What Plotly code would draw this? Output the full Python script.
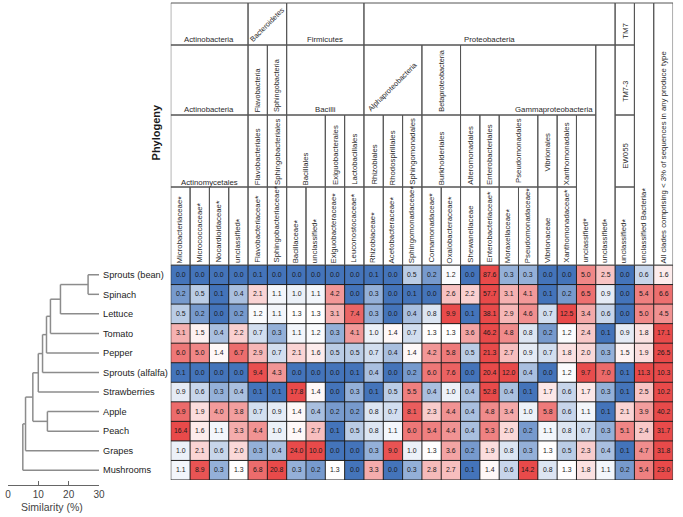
import numpy as np
import plotly.graph_objects as go

# ---------------- data ----------------
rows = ["Sprouts (bean)", "Spinach", "Lettuce", "Tomato", "Pepper", "Sprouts (alfalfa)",
        "Strawberries", "Apple", "Peach", "Grapes", "Mushrooms"]

families = ["Microbacteriaceae*", "Micrococcaceae*", "Nocardioidaceae*", "unclassified*",
            "Flavobacteriaceae*", "Sphingobacteriaceae*", "Bacillaceae*", "unclassified*",
            "Exiguobacteraceae*", "Leuconostocaceae*", "Rhizobiaceae*", "Acetobacteraceae*",
            "Sphingomonadaceae*", "Comamonadaceae*", "Oxalobacteraceae*", "Shewanellaceae",
            "Enterobacteriaceae*", "Moraxellaceae*", "Pseudomonadaceae*", "Vibrionaceae",
            "Xanthomonadaceae*", "unclassified*", "unclassified*", "unclassified*",
            "unclassified Bacteria*",
            "All clades comprising &lt; 3% of sequences in any produce type"]

sprouts_bean    = [0.0, 0.0, 0.0, 0.0, 0.1, 0.0, 0.0, 0.0, 0.0, 0.0, 0.1, 0.0, 0.5, 0.2, 1.2, 0.0, 87.6, 0.3, 0.3, 0.0, 0.0, 5.0, 2.5, 0.0, 0.6, 1.6]
spinach         = [0.2, 0.5, 0.1, 0.4, 2.1, 1.1, 1.0, 1.1, 4.2, 0.0, 0.3, 0.0, 0.1, 0.0, 2.6, 2.2, 57.7, 3.1, 4.1, 0.1, 0.2, 6.5, 0.9, 0.0, 5.4, 6.6]
lettuce         = [0.5, 0.2, 0.0, 0.2, 1.2, 1.1, 1.3, 1.3, 3.1, 7.4, 0.3, 0.0, 0.4, 0.8, 9.9, 0.1, 38.1, 2.9, 4.6, 0.7, 12.5, 3.4, 0.6, 0.0, 5.0, 4.5]
tomato          = [3.1, 1.5, 0.4, 2.2, 0.7, 0.3, 1.1, 1.2, 0.3, 4.1, 1.0, 1.4, 0.7, 1.3, 1.3, 3.6, 46.2, 4.8, 0.8, 0.2, 1.2, 2.4, 0.1, 0.9, 1.8, 17.1]
pepper          = [6.0, 5.0, 1.4, 6.7, 2.9, 0.7, 2.1, 1.6, 0.5, 0.5, 0.7, 0.4, 1.4, 4.2, 5.8, 0.5, 21.3, 2.7, 0.9, 0.7, 1.8, 2.0, 0.3, 1.5, 1.9, 26.5]
sprouts_alfalfa = [0.1, 0.0, 0.0, 0.0, 9.4, 4.3, 0.0, 0.0, 0.0, 0.1, 0.4, 0.0, 0.2, 6.0, 7.6, 0.0, 20.4, 12.0, 0.4, 0.0, 1.2, 9.7, 7.0, 0.1, 11.3, 10.3]
strawberries    = [0.9, 0.6, 0.3, 0.4, 0.1, 0.1, 17.8, 1.4, 0.0, 0.3, 0.1, 0.5, 5.5, 0.4, 1.0, 0.4, 52.8, 0.4, 0.1, 1.7, 0.6, 1.7, 0.3, 0.1, 2.5, 10.2]
apple           = [6.9, 1.9, 4.0, 3.8, 0.7, 0.9, 1.4, 0.4, 0.2, 0.2, 0.8, 0.7, 8.1, 2.3, 4.4, 0.4, 4.8, 3.4, 1.0, 5.8, 0.6, 1.1, 0.1, 2.1, 3.9, 40.2]
peach           = [16.4, 1.6, 1.1, 3.3, 4.4, 1.0, 1.4, 2.7, 0.1, 0.5, 0.8, 1.1, 6.0, 5.4, 4.4, 0.4, 5.3, 2.0, 0.2, 1.1, 0.8, 0.7, 0.3, 5.1, 2.4, 31.7]
grapes          = [1.0, 2.1, 0.6, 2.0, 0.3, 0.4, 24.0, 10.0, 0.0, 0.0, 0.3, 9.0, 1.0, 1.3, 3.6, 0.2, 1.9, 0.8, 0.3, 1.3, 0.5, 2.3, 0.4, 0.1, 4.7, 31.8]
mushrooms       = [1.1, 8.9, 0.3, 1.3, 6.8, 20.8, 0.3, 0.2, 1.3, 0.0, 3.3, 0.0, 0.3, 2.8, 2.7, 0.1, 1.4, 0.6, 14.2, 0.8, 1.3, 1.8, 1.1, 0.2, 5.4, 23.0]

phyla = ["Actinobacteria", "Bacteroidetes", "Firmicutes", "Proteobacteria", "TM7"]
phylum_cols = [(0, 3), (4, 5), (6, 9), (10, 22), (23, 23)]
classes = ["Actinobacteria", "Flavobacteria", "Sphingobacteria", "Bacilli",
           "Alphaproteobacteria", "Betaproteobacteria", "Gammaproteobacteria", "TM7-3"]
class_cols = [(0, 3), (4, 4), (5, 5), (6, 9), (10, 12), (13, 14), (15, 21), (23, 23)]
orders = ["Actinomycetales", "Flavobacteriales", "Sphingobacteriales", "Bacillales",
          "Exiguobacterales", "Lactobacillales", "Rhizobiales", "Rhodospirillales",
          "Sphingomonadales", "Burkholderiales", "Alteromonadales", "Enterobacteriales",
          "Pseudomonadales", "Vibrionales", "Xanthomonadales", "EW055"]
order_cols = [(0, 3), (4, 4), (5, 5), (6, 7), (8, 8), (9, 9), (10, 10), (11, 11), (12, 12),
              (13, 14), (15, 15), (16, 16), (17, 18), (19, 19), (20, 20), (23, 23)]

# dendrogram merges: (node a, node b, similarity %) ; leaves are row indices 0..10
merge_a = [0, 11, 12, 13, 14, 15, 7, 16, 18, 19]
merge_b = [1, 2, 3, 4, 5, 6, 8, 17, 9, 10]
merge_sim = [26.4, 17.3, 14.0, 12.7, 11.4, 10.0, 13.0, 8.2, 5.8, 4.9]
sim_ticks = [0, 10, 20, 30]

# ---------------- layout helpers ----------------
W, H = 683, 517
FONT = "Liberation Sans, Arial, sans-serif"
HM_L, HM_R, HM_T, HM_B = 170, 679, 265, 480
BAND = {"phylum": (3, 45), "class": (45, 115), "order": (115, 187), "family": (187, 265)}
HDR_FS = 7.8
CLS_FS = 7.3
LINE_C = "#555555"
TXT_C = "#2a2a2a"


def xp(px):
    return px / W


def yp(py):
    return 1 - py / H


vals = np.array([sprouts_bean, spinach, lettuce, tomato, pepper, sprouts_alfalfa,
                 strawberries, apple, peach, grapes, mushrooms])
z = np.log10(np.clip(vals, 0.1, None))
txt = [[f"{v:.1f}" for v in r] for r in vals]
ncol = vals.shape[1]
nrow = vals.shape[0]

fig = go.Figure()
fig.add_trace(go.Heatmap(
    z=z, x=list(range(ncol)), y=list(range(nrow)), text=txt, texttemplate="%{text}",
    textfont=dict(size=6.9, color="#1a1a1a", family=FONT),
    zmin=-1.0, zmax=1.0,
    colorscale=[[0, "rgb(68,116,186)"], [0.555, "rgb(255,255,255)"], [1, "rgb(232,74,74)"]],
    showscale=False, hoverinfo="skip", xaxis="x", yaxis="y"))

# dendrogram
node_x = {i: sim_ticks[-1] for i in range(nrow)}
node_y = {i: float(i) for i in range(nrow)}
dx, dy = [], []
for k, (a, b, s) in enumerate(zip(merge_a, merge_b, merge_sim)):
    for c in (a, b):
        dx += [s, node_x[c], None]
        dy += [node_y[c], node_y[c], None]
    dx += [s, s, None]
    dy += [node_y[a], node_y[b], None]
    nid = nrow + k
    node_x[nid] = s
    node_y[nid] = (node_y[a] + node_y[b]) / 2
fig.add_trace(go.Scatter(x=dx, y=dy, mode="lines", line=dict(color="#8c8c8c", width=1.5),
                         hoverinfo="skip", showlegend=False, xaxis="x2", yaxis="y2"))

shapes = []
# grid over heatmap
for i in range(ncol + 1):
    shapes.append(dict(type="line", xref="x", yref="y", x0=i - 0.5, x1=i - 0.5,
                       y0=-0.5, y1=nrow - 0.5, line=dict(color="#1e1e1e", width=1)))
for j in range(nrow + 1):
    shapes.append(dict(type="line", xref="x", yref="y", x0=-0.5, x1=ncol - 0.5,
                       y0=j - 0.5, y1=j - 0.5, line=dict(color="#1e1e1e", width=1)))

annotations = []


def box(c0, c1, top, bot):
    shapes.append(dict(type="rect", xref="x", yref="paper", x0=c0 - 0.5, x1=c1 + 0.5,
                       y0=yp(bot), y1=yp(top), line=dict(color=LINE_C, width=1)))


def label(text, xc, mode, ypx, xanchor="center", size=HDR_FS):
    ang = {"h": 0, "vb": -90, "vt": -90, "vc": -90, "d": -45}[mode]
    yanc = {"vb": "bottom", "vt": "top"}.get(mode, "middle")
    annotations.append(dict(text=text, x=xc, y=yp(ypx), xref="x", yref="paper",
                            showarrow=False, textangle=ang, xanchor=xanchor, yanchor=yanc,
                            borderpad=0, borderwidth=0,
                            font=dict(size=size, color=TXT_C, family=FONT)))


phylum_style = {"Actinobacteria": ("h", 40), "Bacteroidetes": ("d", 25), "Firmicutes": ("h", 40),
                "Proteobacteria": ("h", 40), "TM7": ("vc", 31)}
class_style = {"Actinobacteria": ("h", 110), "Flavobacteria": ("vb", 112),
               "Sphingobacteria": ("vb", 112), "Bacilli": ("h", 110),
               "Alphaproteobacteria": ("d", 87), "Betaproteobacteria": ("vb", 112),
               "Gammaproteobacteria": ("h", 110), "TM7-3": ("vc", 91)}
order_style = {"Actinomycetales": ("h", 182), "Pseudomonadales": ("vt", 118),
               "Vibrionales": ("vc", 152), "EW055": ("vc", 156)}

for name, (c0, c1) in zip(phyla, phylum_cols):
    box(c0, c1, *BAND["phylum"])
    m, y = phylum_style[name]
    label(name, (c0 + c1) / 2, m, y, size=CLS_FS if m == "d" else HDR_FS)
for name, (c0, c1) in zip(classes, class_cols):
    box(c0, c1, *BAND["class"])
    m, y = class_style[name]
    if name == "Gammaproteobacteria":
        label(name, c1 + 0.35, m, y, xanchor="right")
    else:
        label(name, (c0 + c1) / 2, m, y, size=HDR_FS if m == "h" else CLS_FS)
for name, (c0, c1) in zip(orders, order_cols):
    box(c0, c1, *BAND["order"])
    m, y = order_style.get(name, ("vb", 185))
    label(name, (c0 + c1) / 2, m, y)


def covered(spans, c):
    return any(a <= c <= b for a, b in spans)


STAR = "<sub><span style='font-size:9px'>*</span></sub>"
for c, fam in enumerate(families):
    if covered(order_cols, c):
        top = BAND["order"][1]
    elif covered(class_cols, c):
        top = BAND["class"][1]
    elif covered(phylum_cols, c):
        top = BAND["phylum"][1]
    else:
        top = BAND["phylum"][0]
    box(c, c, top, BAND["family"][1])
    t = fam[:-1] + STAR if fam.endswith("*") else fam
    label(t, c, "vb", 263)

annotations.append(dict(text="<b>Phylogeny</b>", x=xp(155), y=yp(160), xref="paper", yref="paper",
                        showarrow=False, textangle=-90, xanchor="center", yanchor="bottom",
                        borderpad=0, borderwidth=0,
                        font=dict(size=11, color="#1a1a1a", family=FONT)))
annotations.append(dict(text="Similarity (%)", x=xp(50), y=yp(507), xref="paper", yref="paper",
                        showarrow=False, xanchor="center", yanchor="middle",
                        font=dict(size=10.5, color="#444444", family=FONT)))

hm_ydom = [yp(HM_B), yp(HM_T)]
fig.update_layout(
    width=W, height=H, margin=dict(l=0, r=0, t=0, b=0),
    paper_bgcolor="white", plot_bgcolor="white", showlegend=False,
    font=dict(family=FONT),
    xaxis=dict(domain=[xp(HM_L), xp(HM_R)], range=[-0.5, ncol - 0.5], visible=False,
               anchor="y"),
    yaxis=dict(domain=hm_ydom, range=[nrow - 0.5, -0.5], visible=False, anchor="x"),
    xaxis2=dict(domain=[xp(5), xp(97.3)], range=[sim_ticks[0], sim_ticks[-1]], anchor="free",
                position=yp(485), showline=True, linecolor="#666666", linewidth=1,
                ticks="inside", ticklen=4, tickcolor="#666666", tickvals=sim_ticks,
                tickfont=dict(size=10, color="#444444", family=FONT),
                showgrid=False, zeroline=False),
    yaxis2=dict(domain=hm_ydom, range=[nrow - 0.5, -0.5], anchor="x2", side="right",
                tickvals=list(range(nrow)), ticktext=rows, ticks="", showline=False,
                showgrid=False, zeroline=False, ticklabelstandoff=3,
                tickfont=dict(size=9.2, color="#222222", family=FONT)),
    shapes=shapes, annotations=annotations,
)

fig.write_html("out.html", config={"displayModeBar": False},
               post_script="document.body.style.margin='0px';")
